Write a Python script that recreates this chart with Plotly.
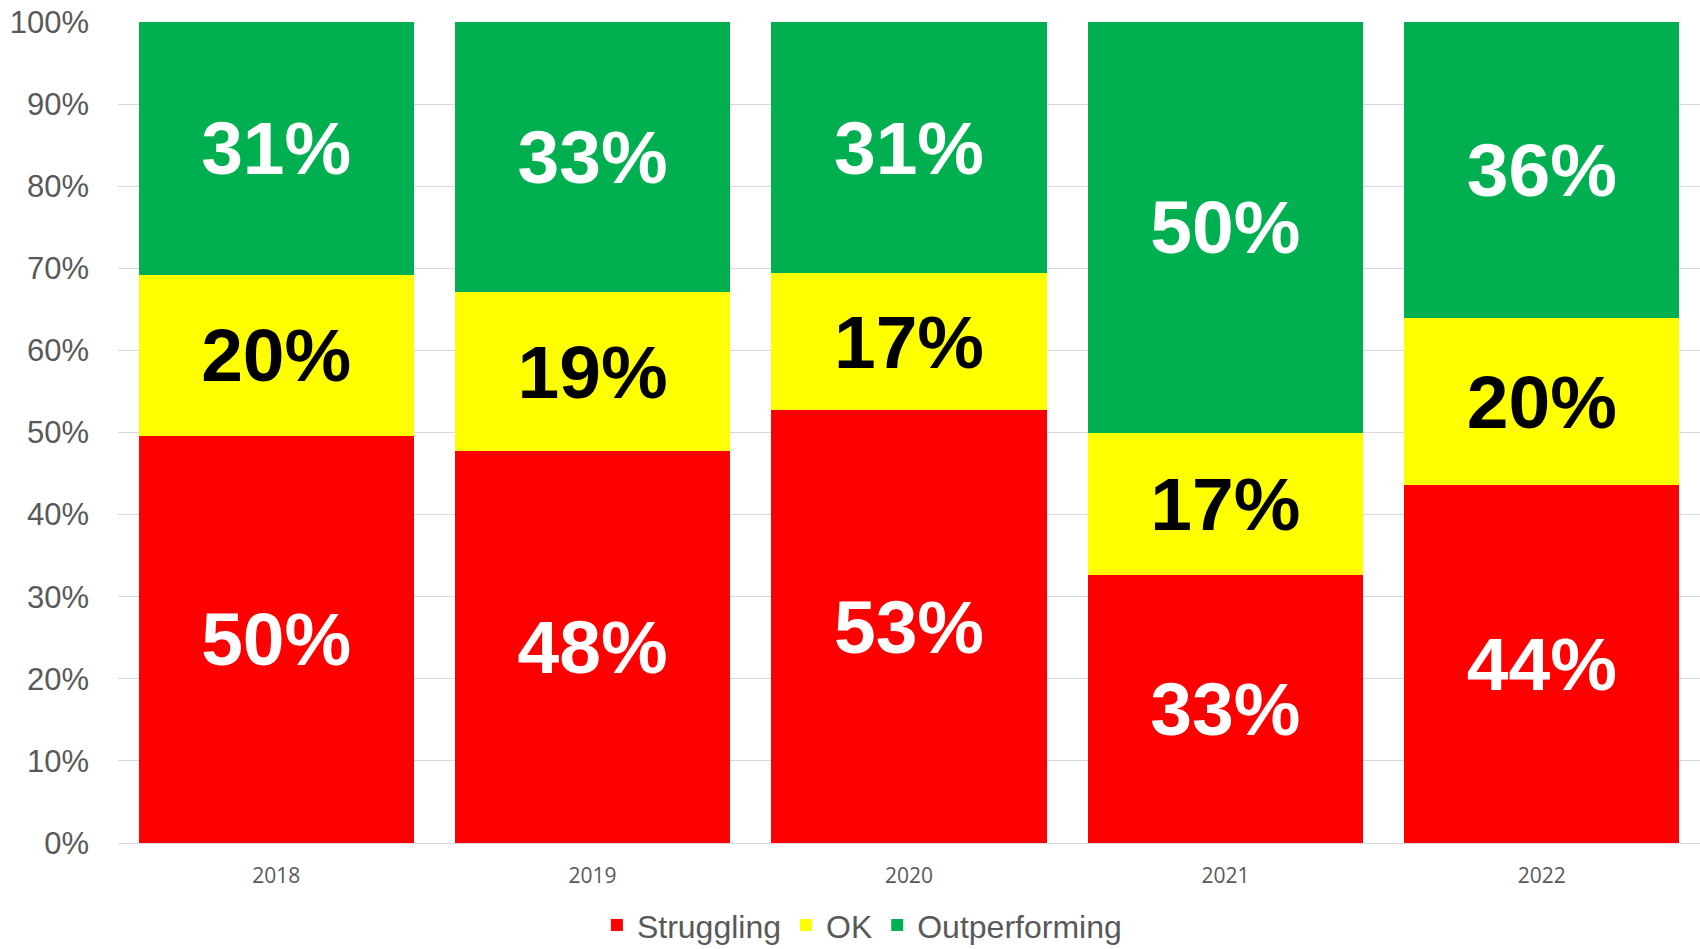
import plotly.graph_objects as go

# Datos (porcentaje por año)
anios = ['2018', '2019', '2020', '2021', '2022']
struggling = [49.6, 47.7, 52.7, 32.6, 43.6]
ok = [19.6, 19.4, 16.7, 17.4, 20.3]
outperforming = [30.8, 32.9, 30.6, 50.0, 36.1]

series = [
    ('Struggling', struggling, '#FF0000', 'white'),
    ('OK', ok, '#FFFF00', 'black'),
    ('Outperforming', outperforming, '#00B050', 'white'),
]

fig = go.Figure()
for nombre, valores, color, color_txt in series:
    fig.add_trace(go.Bar(
        x=anios, y=valores, name=nombre,
        marker=dict(color=color, line=dict(width=0)),
        texttemplate='%{y:.0f}%',
        textposition='inside',
        insidetextanchor='middle',
        textangle=0,
        textfont=dict(family='Liberation Sans, Arial', size=75, color=color_txt, weight='bold'),
        hoverinfo='skip',
    ))

fig.update_layout(
    width=1700, height=949,
    barmode='stack',
    bargap=0.13,
    paper_bgcolor='white',
    plot_bgcolor='white',
    margin=dict(l=118, r=0, t=22, b=106),
    font=dict(family='Liberation Sans, Arial', color='#595959'),
    legend=dict(
        orientation='h',
        xref='container', yref='container',
        x=0.507, xanchor='center',
        y=0.025, yanchor='middle',
        font=dict(size=32, color='#595959'),
        traceorder='normal',
    ),
)

fig.update_yaxes(
    range=[0, 100], dtick=10, ticksuffix='%',
    showgrid=True, gridcolor='#d9d9d9', gridwidth=1.3,
    zeroline=True, zerolinecolor='#d9d9d9', zerolinewidth=1.3,
    tickfont=dict(size=31, color='#595959'),
    ticklabelstandoff=28,
)

fig.update_xaxes(
    type='category',
    showgrid=False,
    tickfont=dict(family='Open Sans', size=21, color='#595959'),
    ticklabelstandoff=18,
)

# quitar el margen del body para que la figura quede en 0,0
fig.write_html("out.html", config={'displayModeBar': False},
               post_script="document.body.style.margin='0';")
